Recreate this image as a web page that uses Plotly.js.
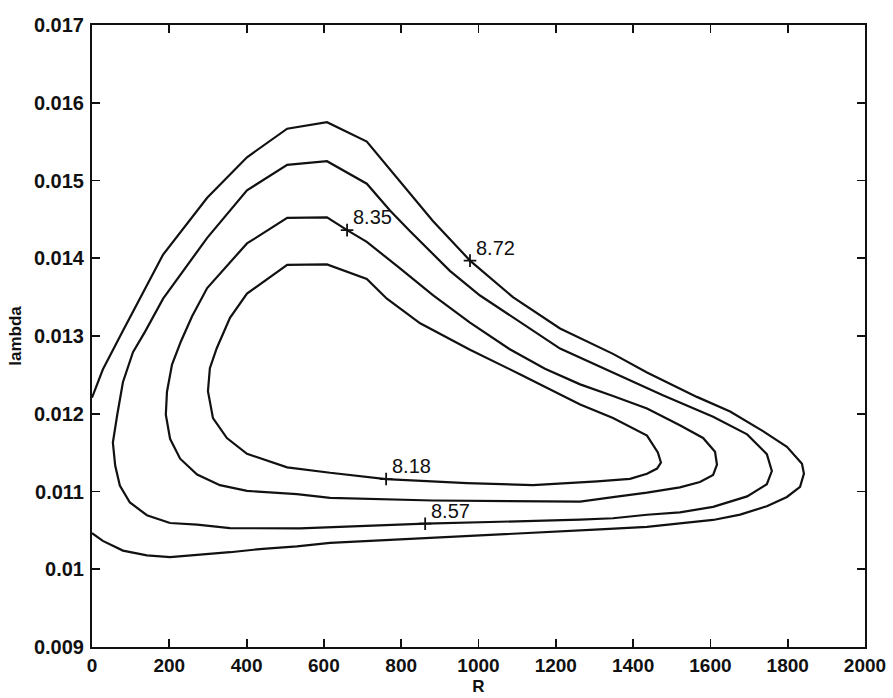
<!DOCTYPE html>
<html>
<head>
<meta charset="utf-8">
<script src="https://cdn.plot.ly/plotly-3.0.1.min.js"></script>
<style>
  html, body { margin: 0; padding: 0; background: #fff; }
  #chart { width: 893px; height: 698px; }
</style>
</head>
<body>
<div id="chart"></div>
<script>
// Contour levels of the fitted objective over (R, lambda)
const levels = ["8.18", "8.35", "8.57", "8.72"];

// Level 8.18 (innermost closed contour)
const r818 = [616, 505, 401, 349, 313, 300, 305, 323, 357, 401, 505, 608, 711, 763, 849, 978,
              1107, 1263, 1348, 1436, 1464, 1472, 1462, 1436, 1392, 1307, 1141, 970, 761, 616];
const l818 = [0.011241, 0.011311, 0.011485, 0.011687, 0.011943, 0.01229, 0.012587, 0.012846,
              0.013234, 0.013546, 0.013914, 0.013921, 0.013734, 0.01348, 0.013163, 0.012823,
              0.012509, 0.01212, 0.011945, 0.011719, 0.011502, 0.011373, 0.011295, 0.011229,
              0.011162, 0.011131, 0.011081, 0.011109, 0.01116, 0.011241];

// Level 8.35
const r835 = [616, 530, 401, 331, 272, 228, 202, 191, 194, 207, 230, 259, 298, 401, 505, 608,
              660, 711, 797, 882, 978, 1081, 1172, 1263, 1348, 1436, 1521, 1581, 1612, 1617,
              1607, 1573, 1521, 1436, 1348, 1263, 882, 616];
const l835 = [0.010919, 0.010965, 0.011008, 0.011081, 0.011219, 0.011422, 0.011678, 0.011987,
              0.012283, 0.012632, 0.01293, 0.013254, 0.013617, 0.014191, 0.014519, 0.014526,
              0.014362, 0.014211, 0.013869, 0.013526, 0.013171, 0.01283, 0.012578, 0.012378,
              0.012229, 0.012067, 0.011853, 0.011689, 0.011511, 0.011344, 0.011214, 0.011122,
              0.011054, 0.010985, 0.010927, 0.01087, 0.010884, 0.010919];

// Level 8.57
const r857 = [202, 142, 98, 72, 60, 54, 65, 80, 106, 137, 184, 298, 401, 505, 608, 711, 771,
              823, 926, 1004, 1211, 1348, 1477, 1607, 1695, 1746, 1759, 1746, 1695, 1607, 1521,
              1436, 1348, 1263, 862, 538, 357, 272, 202];
const l857 = [0.010595, 0.010695, 0.010859, 0.011077, 0.011334, 0.01163, 0.011978, 0.012405,
              0.012793, 0.013053, 0.013481, 0.014262, 0.014874, 0.015202, 0.015248, 0.014959,
              0.014614, 0.014347, 0.013838, 0.013521, 0.012838, 0.012525, 0.012237, 0.011962,
              0.011735, 0.011481, 0.011263, 0.011094, 0.010937, 0.010802, 0.010732, 0.010701,
              0.010656, 0.010638, 0.010586, 0.010527, 0.010528, 0.010575, 0.010595];

// Level 8.72 (outermost, open at R = 0)
const r872 = [0, 28, 78, 124, 184, 298, 401, 505, 608, 711, 797, 882, 978, 1089, 1211, 1348,
              1436, 1565, 1651, 1736, 1798, 1837, 1842, 1832, 1798, 1746, 1677, 1607, 1521,
              1436, 1314, 797, 616, 530, 442, 357, 272, 202, 142, 80, 28, 0];
const l872 = [0.012206, 0.012569, 0.013049, 0.013477, 0.014048, 0.014777, 0.015299, 0.015666,
              0.01575, 0.0155, 0.01499, 0.01448, 0.01397, 0.0135, 0.013096, 0.01277, 0.012531,
              0.012217, 0.012029, 0.011777, 0.011575, 0.011358, 0.01123, 0.011061, 0.01093,
              0.010811, 0.010703, 0.010634, 0.01059, 0.010546, 0.010512, 0.010389, 0.010339,
              0.010294, 0.010263, 0.010219, 0.010188, 0.010157, 0.010179, 0.01024, 0.010365,
              0.010466];

// Points where each level is labelled
const markR = [761, 660, 862, 978];
const markLam = [0.01116, 0.014362, 0.010586, 0.01397];

// Axis ticks
const xTicks = [0, 200, 400, 600, 800, 1000, 1200, 1400, 1600, 1800, 2000];
const xTickText = ["0", "200", "400", "600", "800", "1000", "1200", "1400", "1600", "1800", "2000"];
const yTicks = [0.009, 0.010, 0.011, 0.012, 0.013, 0.014, 0.015, 0.016, 0.017];
const yTickText = ["0.009", "0.01", "0.011", "0.012", "0.013", "0.014", "0.015", "0.016", "0.017"];

const FONT = "Liberation Sans, Arial, Helvetica, sans-serif";
const INK = "#111";

function contour(x, y) {
  return {
    type: "scatter", mode: "lines", x: x, y: y,
    line: { color: INK, width: 2.2, shape: "linear" },
    hoverinfo: "skip", showlegend: false
  };
}

const data = [
  contour(r818, l818),
  contour(r835, l835),
  contour(r857, l857),
  contour(r872, l872),
  {
    type: "scatter", mode: "markers", x: markR, y: markLam,
    marker: { symbol: "cross-thin-open", size: 9, color: INK, line: { color: INK, width: 1.8 } },
    hoverinfo: "skip", showlegend: false
  }
];

const annotations = markR.map((r, i) => ({
  x: r, y: markLam[i], xref: "x", yref: "y",
  text: levels[i], showarrow: false,
  xanchor: "left", yanchor: "bottom", xshift: 4, yshift: 0,
  font: { family: FONT, size: 20, color: INK }
}));

const axisCommon = {
  showline: true, linecolor: INK, linewidth: 2, mirror: "ticks",
  ticks: "inside", ticklen: 8, tickwidth: 1.8, tickcolor: INK,
  showgrid: false, zeroline: false,
  tickfont: { family: FONT, size: 20, color: INK, weight: "bold" }
};

const layout = {
  width: 893, height: 698,
  margin: { l: 92, r: 28, t: 25, b: 51, pad: 0 },
  paper_bgcolor: "#fff", plot_bgcolor: "#fff",
  showlegend: false,
  xaxis: Object.assign({}, axisCommon, {
    range: [0, 2000], tickmode: "array", tickvals: xTicks, ticktext: xTickText,
    ticklabelstandoff: 0,
    tickfont: { family: FONT, size: 19, color: INK, weight: "bold" },
    title: { text: "R", font: { family: FONT, size: 17, color: INK, weight: "bold" }, standoff: 5 }
  }),
  yaxis: Object.assign({}, axisCommon, {
    range: [0.009, 0.017], tickmode: "array", tickvals: yTicks, ticktext: yTickText,
    ticklabelstandoff: 2,
    title: { text: "lambda", font: { family: FONT, size: 17, color: INK, weight: "bold" }, standoff: 8 }
  }),
  annotations: annotations
};

Plotly.newPlot("chart", data, layout, { displayModeBar: false, staticPlot: true });
</script>
</body>
</html>
